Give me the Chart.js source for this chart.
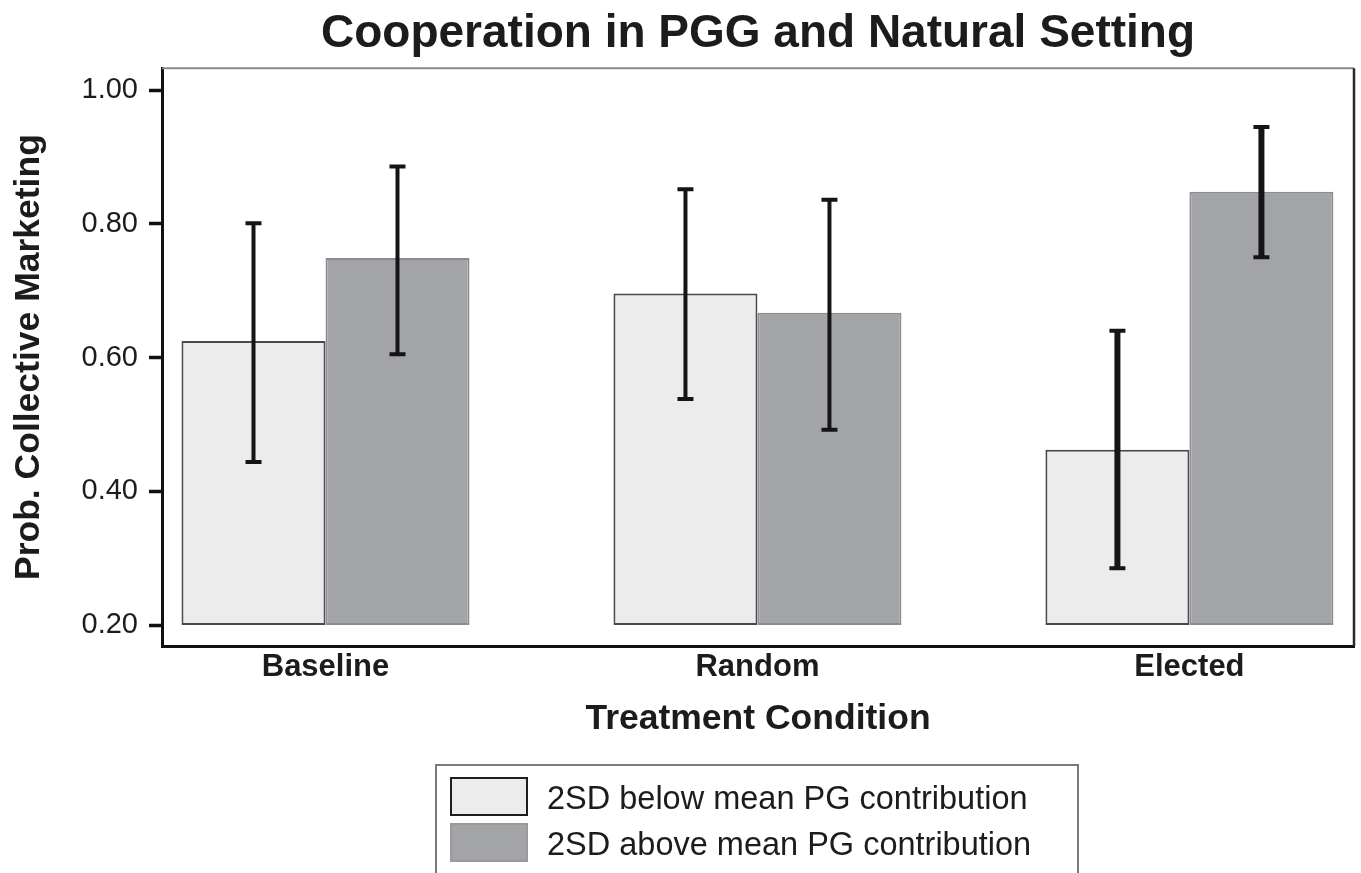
<!DOCTYPE html>
<html>
<head>
<meta charset="utf-8">
<script src="https://cdn.jsdelivr.net/npm/chart.js@4.4.0/dist/chart.umd.min.js"></script>
<style>
html,body{margin:0;padding:0;background:#ffffff;}
#wrap{width:1361px;height:873px;position:relative;overflow:hidden;}
</style>
</head>
<body>
<div id="wrap"><canvas id="c" width="1361" height="873"></canvas></div>
<script>
// ---- data ----
const categories = ['Baseline', 'Random', 'Elected'];
const seriesNames = ['2SD below mean PG contribution', '2SD above mean PG contribution'];
const barBase = 0.20;
const belowValues  = [0.625, 0.696, 0.462];
const belowErrLow  = [0.444, 0.538, 0.285];
const belowErrHigh = [0.801, 0.852, 0.640];
const aboveValues  = [0.749, 0.667, 0.848];
const aboveErrLow  = [0.605, 0.492, 0.750];
const aboveErrHigh = [0.886, 0.836, 0.945];
const yTickValues = [0.20, 0.40, 0.60, 0.80, 1.00];
const chartTitle = 'Cooperation in PGG and Natural Setting';
const xTitle = 'Treatment Condition';
const yTitle = 'Prob. Collective Marketing';

const FONT = '"Liberation Sans", Arial, Helvetica, sans-serif';
const TEXT = '#1c1c1c';

function toPoints(vals) {
  return vals.map((v, i) => ({ x: i, y: [barBase, v] }));
}

const errorBarPlugin = {
  id: 'errorBars',
  afterDatasetsDraw(chart, args, opts) {
    const ctx = chart.ctx;
    const ys = chart.scales.y;
    chart.data.datasets.forEach((ds, di) => {
      const meta = chart.getDatasetMeta(di);
      meta.data.forEach((bar, i) => {
        const x = bar.x;
        const yl = ys.getPixelForValue(ds.errLow[i]);
        const yh = ys.getPixelForValue(ds.errHigh[i]);
        ctx.save();
        ctx.strokeStyle = opts.color;
        ctx.lineCap = 'butt';
        ctx.lineWidth = opts.widths[i];
        ctx.beginPath();
        ctx.moveTo(x, yl); ctx.lineTo(x, yh);
        ctx.stroke();
        ctx.lineWidth = opts.capThickness;
        ctx.beginPath();
        ctx.moveTo(x - opts.capHalf, yh); ctx.lineTo(x + opts.capHalf, yh);
        ctx.moveTo(x - opts.capHalf, yl); ctx.lineTo(x + opts.capHalf, yl);
        ctx.stroke();
        ctx.restore();
      });
    });
  }
};

const framePlugin = {
  id: 'frame',
  afterDatasetsDraw(chart) {
    const {ctx, chartArea: a} = chart;
    ctx.save();
    ctx.strokeStyle = '#8a8a8a';
    ctx.lineWidth = 2;
    ctx.beginPath();
    ctx.moveTo(a.left, a.top); ctx.lineTo(a.right, a.top);
    ctx.stroke();
    ctx.strokeStyle = '#2a2a2a';
    ctx.lineWidth = 2.5;
    ctx.beginPath();
    ctx.moveTo(a.right, a.top); ctx.lineTo(a.right, a.bottom);
    ctx.stroke();
    ctx.restore();
  }
};

const boxLegendPlugin = {
  id: 'boxLegend',
  afterDraw(chart, args, o) {
    const ctx = chart.ctx;
    ctx.save();
    ctx.fillStyle = '#ffffff';
    ctx.fillRect(o.left, o.top, o.width, o.height);
    ctx.strokeStyle = '#7a7a7a';
    ctx.lineWidth = 2;
    ctx.strokeRect(o.left, o.top, o.width, o.height);
    ctx.font = o.font;
    ctx.textBaseline = 'middle';
    ctx.textAlign = 'left';
    chart.data.datasets.forEach((ds, i) => {
      const y = o.top + o.firstOffset + i * o.rowGap;
      ctx.fillStyle = ds.backgroundColor;
      ctx.fillRect(o.swLeft, y, o.swW, o.swH);
      ctx.strokeStyle = o.swBorders[i];
      ctx.lineWidth = 2;
      ctx.strokeRect(o.swLeft, y, o.swW, o.swH);
      ctx.fillStyle = TEXT;
      ctx.fillText(ds.label, o.textLeft, y + o.swH / 2 + o.textShift);
    });
    ctx.restore();
  }
};

new Chart(document.getElementById('c'), {
  type: 'bar',
  data: {
    datasets: [
      {
        label: seriesNames[0],
        data: toPoints(belowValues),
        errLow: belowErrLow,
        errHigh: belowErrHigh,
        backgroundColor: '#ebeceb',
        borderColor: '#4a4a4a',
        borderWidth: 2,
        borderSkipped: false
      },
      {
        label: seriesNames[1],
        data: toPoints(aboveValues),
        errLow: aboveErrLow,
        errHigh: aboveErrHigh,
        backgroundColor: '#a3a4a7',
        borderColor: '#8b8c8f',
        borderWidth: 2,
        borderSkipped: false
      }
    ]
  },
  options: {
    responsive: false,
    animation: false,
    devicePixelRatio: 1,
    categoryPercentage: 0.6667,
    barPercentage: 1.0,
    layout: { padding: { left: 0, right: 7, top: 0, bottom: 117 } },
    plugins: {
      legend: { display: false },
      tooltip: { enabled: false },
      title: {
        display: true,
        fullSize: false,
        text: chartTitle,
        color: TEXT,
        font: { family: FONT, size: 46, weight: 'bold' },
        padding: { top: 7, bottom: 6 }
      },
      errorBars: { color: '#151515', widths: [4, 4, 6], capThickness: 4, capHalf: 8 },
      boxLegend: {
        left: 436, top: 765, width: 642, height: 112,
        swLeft: 451, swW: 76, swH: 37, firstOffset: 13, rowGap: 46,
        textLeft: 547, textShift: 3.5, font: '32.5px ' + FONT,
        swBorders: ['#1e1e1e', '#9a9a9a']
      }
    },
    scales: {
      x: {
        type: 'linear',
        min: -0.3785,
        max: 2.381,
        offset: false,
        afterFit(scale) { scale.height = 110; },
        afterBuildTicks(scale) { scale.ticks = categories.map((_, i) => ({ value: i })); },
        ticks: {
          callback: (v) => categories[v],
          color: TEXT,
          font: { family: FONT, size: 31, weight: 'bold' },
          padding: 3,
          maxRotation: 0,
          autoSkip: false
        },
        grid: { display: true, drawOnChartArea: false, drawTicks: false, offset: false },
        border: { display: true, color: '#111111', width: 3 },
        title: {
          display: true,
          text: xTitle,
          color: TEXT,
          font: { family: FONT, size: 35.5, weight: 'bold' },
          padding: { top: 0, bottom: 15 }
        }
      },
      y: {
        type: 'linear',
        min: 0.1686,
        max: 1.0329,
        afterFit(scale) { scale.width = 162; },
        afterBuildTicks(scale) { scale.ticks = yTickValues.map(v => ({ value: v })); },
        ticks: {
          callback: (v) => Number(v).toFixed(2),
          color: TEXT,
          font: { family: FONT, size: 29 },
          padding: 11
        },
        grid: {
          display: true, drawOnChartArea: false, drawTicks: true,
          tickLength: 13, tickColor: '#111111', tickWidth: 3.5
        },
        border: { display: true, color: '#111111', width: 3 },
        title: {
          display: true,
          text: yTitle,
          color: TEXT,
          font: { family: FONT, size: 35.5, weight: 'bold' },
          padding: { top: 8, bottom: 0 }
        }
      }
    }
  },
  plugins: [framePlugin, errorBarPlugin, boxLegendPlugin]
});
</script>
</body>
</html>
